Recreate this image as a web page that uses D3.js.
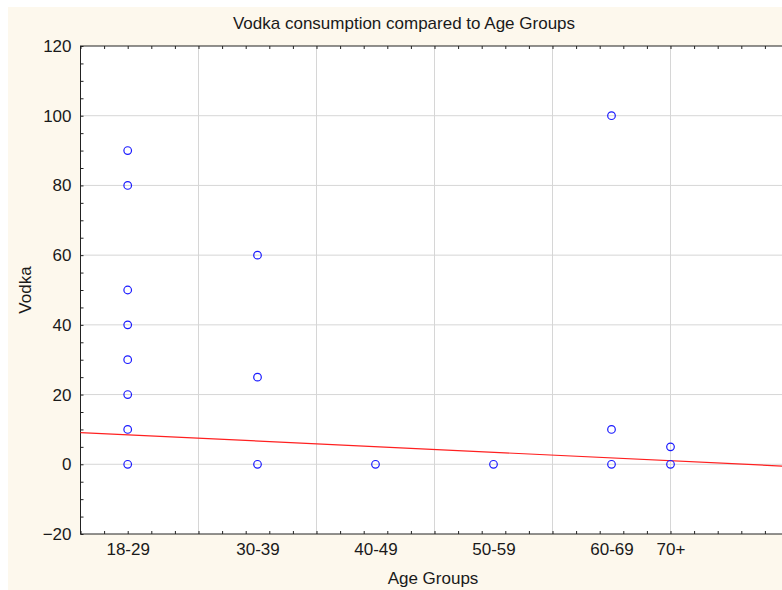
<!DOCTYPE html>
<html>
<head>
<meta charset="utf-8">
<script src="https://cdn.jsdelivr.net/npm/d3@7"></script>
<style>
  body { margin: 0; background: #fff; }
  text { font-family: "Liberation Sans", Arial, sans-serif; fill: #1a1a1a; }
</style>
</head>
<body>
<div id="chart"></div>
<script>
// age groups and the age each group is plotted at
const ageGroups = ["18-29", "30-39", "40-49", "50-59", "60-69", "70+"];
const groupAges = [24, 35, 45, 55, 65, 70];
// vodka values per group
const vodka = [
  [90, 80, 50, 40, 30, 20, 10, 0],
  [60, 25, 0],
  [0],
  [0],
  [100, 10, 0],
  [5, 0]
];
// fitted line, read at both ends of the x axis
const fitAges = [20, 80];
const fitVodka = [9.1, -0.6];
const yTicks = [-20, 0, 20, 40, 60, 80, 100, 120];
const xGrid = [30, 40, 50, 60, 70];

const W = 782, H = 590;
const margin = { top: 46, left: 80.5, bottom: 534, right: 788.5 };

const svg = d3.select("#chart").append("svg")
  .attr("width", W).attr("height", H);

// cream panel
svg.append("rect")
  .attr("x", 8).attr("y", 7)
  .attr("width", W - 8).attr("height", H - 7)
  .attr("fill", "#fdf8ed");

const x = d3.scaleLinear().domain([20, 80]).range([margin.left, margin.right]);
const y = d3.scaleLinear().domain([-20, 120]).range([margin.bottom, margin.top]);

// plot area
svg.append("rect")
  .attr("x", margin.left).attr("y", margin.top)
  .attr("width", margin.right - margin.left)
  .attr("height", margin.bottom - margin.top)
  .attr("fill", "#fff");

// grid lines
svg.append("g").selectAll("line")
  .data(xGrid).enter().append("line")
  .attr("x1", d => x(d)).attr("x2", d => x(d))
  .attr("y1", margin.top).attr("y2", margin.bottom)
  .attr("stroke", "#d6d6d6");
svg.append("g").selectAll("line")
  .data(yTicks.slice(1, -1)).enter().append("line")
  .attr("x1", margin.left).attr("x2", margin.right)
  .attr("y1", d => y(d)).attr("y2", d => y(d))
  .attr("stroke", "#d6d6d6");

// tick marks (pointing inside)
const minorX = d3.range(20, 81, 2);
const minorY = d3.range(-20, 121, 5);
const tickAxis = (g) => {
  g.select(".domain").remove();
  g.selectAll("line").attr("stroke", "#222");
  g.selectAll("text").remove();
};
svg.append("g").attr("transform", "translate(0," + margin.bottom + ")")
  .call(d3.axisBottom(x).tickValues(minorX).tickSize(-3)).call(tickAxis);
svg.append("g").attr("transform", "translate(0," + margin.top + ")")
  .call(d3.axisTop(x).tickValues(minorX).tickSize(-3)).call(tickAxis);
svg.append("g").attr("transform", "translate(" + margin.left + ",0)")
  .call(d3.axisLeft(y).tickValues(minorY).tickSize(-3)).call(tickAxis);

// frame
svg.append("rect")
  .attr("x", margin.left).attr("y", margin.top)
  .attr("width", margin.right - margin.left)
  .attr("height", margin.bottom - margin.top)
  .attr("fill", "none").attr("stroke", "#222");

// tick labels
const yLab = svg.append("g").attr("transform", "translate(" + margin.left + ",0)")
  .call(d3.axisLeft(y).tickValues(yTicks).tickSize(0).tickPadding(9));
yLab.select(".domain").remove();
yLab.selectAll("text").style("font-size", "17px").attr("fill", "#1a1a1a");

const xLab = svg.append("g").attr("transform", "translate(0," + margin.bottom + ")")
  .call(d3.axisBottom(x).tickValues(groupAges)
    .tickFormat((d, i) => ageGroups[i]).tickSize(0).tickPadding(9));
xLab.select(".domain").remove();
xLab.selectAll("text").style("font-size", "17px").attr("fill", "#1a1a1a");

// fit line
svg.append("line")
  .attr("x1", x(fitAges[0])).attr("y1", y(fitVodka[0]))
  .attr("x2", x(fitAges[1])).attr("y2", y(fitVodka[1]))
  .attr("stroke", "#ff2020").attr("stroke-width", 1.2);

// points
const points = [];
vodka.forEach((vals, i) => vals.forEach(v => points.push({ age: groupAges[i], v: v })));
svg.append("g").selectAll("circle")
  .data(points).enter().append("circle")
  .attr("cx", d => x(d.age)).attr("cy", d => y(d.v))
  .attr("r", 3.8)
  .attr("fill", "none").attr("stroke", "#1a1aff").attr("stroke-width", 1.2);

// title and axis titles
svg.append("text")
  .attr("x", 404).attr("y", 29)
  .attr("text-anchor", "middle")
  .style("font-size", "17px")
  .text("Vodka consumption compared to Age Groups");
svg.append("text")
  .attr("x", 433).attr("y", 584)
  .attr("text-anchor", "middle")
  .style("font-size", "17px")
  .text("Age Groups");
svg.append("text")
  .attr("transform", "rotate(-90)")
  .attr("x", -290).attr("y", 31)
  .attr("text-anchor", "middle")
  .style("font-size", "17px")
  .text("Vodka");
</script>
</body>
</html>
